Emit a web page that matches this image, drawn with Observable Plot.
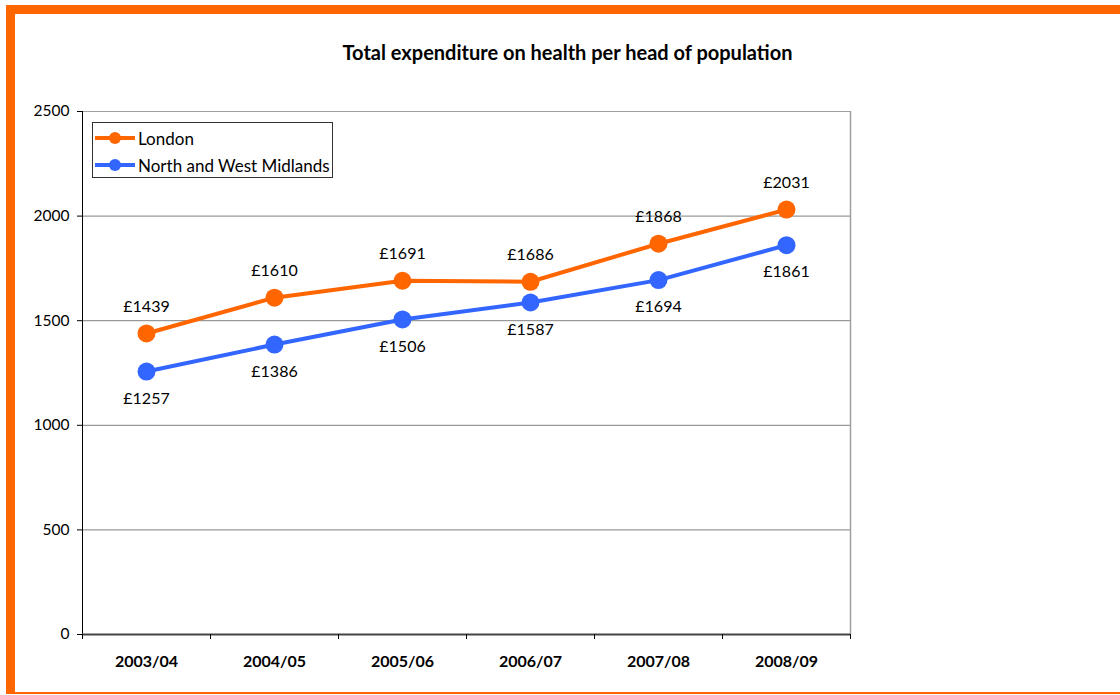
<!DOCTYPE html>
<html>
<head>
<meta charset="utf-8">
<script src="https://cdn.jsdelivr.net/npm/d3@7"></script>
<script src="https://cdn.jsdelivr.net/npm/@observablehq/plot@0.6"></script>
<style>
  html, body { margin: 0; padding: 0; background: #fff; }
  body { width: 1120px; height: 695px; position: relative; overflow: hidden; font-family: Lato, "Open Sans", sans-serif; }
  #frame { position: absolute; left: 6px; top: 5px; width: 1114px; height: 689px; box-sizing: border-box;
           border-top: 9px solid #FF6600; border-left: 9px solid #FF6600; border-bottom: 2px solid #FF6600; }
  #chart { position: absolute; left: 0; top: 0; }
  #title { position: absolute; left: 15px; width: 1105px; top: 40px; text-align: center; font-weight: bold; font-size: 20px; color: #000; }
  #legend { position: absolute; left: 92px; top: 122px; width: 239px; height: 54px; border: 1px solid #333; background: #fff; font-size: 17px; color: #000; }
  .item { position: absolute; left: 2px; height: 20px; display: flex; align-items: center; }
  .item svg { margin-right: 3px; }
</style>
</head>
<body>
<div id="frame"></div>
<div id="chart"></div>
<div id="title">Total expenditure on health per head of population</div>
<div id="legend"></div>
<script>
const years = ["2003/04", "2004/05", "2005/06", "2006/07", "2007/08", "2008/09"];
const london = [1439, 1610, 1691, 1686, 1868, 2031];
const midlands = [1257, 1386, 1506, 1587, 1694, 1861];
const seriesNames = ["London", "North and West Midlands"];
const seriesColors = ["#FF6600", "#3366FF"];
const yTicks = [0, 500, 1000, 1500, 2000, 2500];

const rows = [];
years.forEach((y, i) => {
  rows.push({series: seriesNames[0], i: i + 0.5, year: y, value: london[i]});
  rows.push({series: seriesNames[1], i: i + 0.5, year: y, value: midlands[i]});
});
const lon = rows.filter(d => d.series === seriesNames[0]);
const mid = rows.filter(d => d.series === seriesNames[1]);

const font = "Lato, 'Open Sans', sans-serif";
const chart = Plot.plot({
  width: 1120,
  height: 695,
  marginLeft: 82,
  marginRight: 270,
  marginTop: 111,
  marginBottom: 61,
  style: {fontFamily: font, fontSize: "15px", color: "#000", background: "transparent", overflow: "visible"},
  x: {domain: [0, years.length], axis: null, label: null},
  y: {domain: [0, 2500], axis: null, label: null},
  color: {domain: seriesNames, range: seriesColors},
  marks: [
    Plot.ruleY(yTicks.filter(t => t > 0 && t < 2500), {stroke: "#808080", strokeWidth: 1}),
    Plot.ruleY([2500], {stroke: "#a0a0a0", strokeWidth: 1}),
    Plot.ruleX([years.length], {stroke: "#a0a0a0", strokeWidth: 1.5}),
    Plot.ruleX([0], {stroke: "#000", strokeWidth: 1}),
    Plot.ruleY([0], {stroke: "#444", strokeWidth: 2}),
    Plot.axisY({ticks: yTicks, label: null, tickSize: 5, tickPadding: 8, stroke: "#000", fontSize: 15.5, tickFormat: d => String(d), fill: "#000"}),
    Plot.axisX({ticks: d3.range(0, years.length + 1), label: null, tickSize: 5, tickFormat: () => "", stroke: "#000"}),
    Plot.axisX({ticks: years.map((_, i) => i + 0.5), label: null, tickSize: 0, tickPadding: 21, tickFormat: v => years[Math.floor(v)], fontWeight: "bold", fontSize: 16, fill: "#000"}),
    Plot.line(rows, {x: "i", y: "value", stroke: "series", z: "series", strokeWidth: 4}),
    Plot.dot(rows, {x: "i", y: "value", fill: "series", r: 9}),
    Plot.text(lon, {x: "i", y: "value", text: d => "£" + d.value, dy: -27, fontSize: 16, fill: "#000"}),
    Plot.text(mid, {x: "i", y: "value", text: d => "£" + d.value, dy: 27, fontSize: 16, fill: "#000"})
  ]
});
document.getElementById("chart").appendChild(chart);

const legend = document.getElementById("legend");
seriesNames.forEach((name, k) => {
  const div = document.createElement("div");
  div.className = "item";
  div.style.top = (5 + k * 27) + "px";
  div.innerHTML = `<svg width="40" height="14"><line x1="0" y1="7" x2="40" y2="7" stroke="${seriesColors[k]}" stroke-width="4"/><circle cx="20" cy="7" r="6" fill="${seriesColors[k]}"/></svg><span>${name}</span>`;
  legend.appendChild(div);
});
</script>
</body>
</html>
